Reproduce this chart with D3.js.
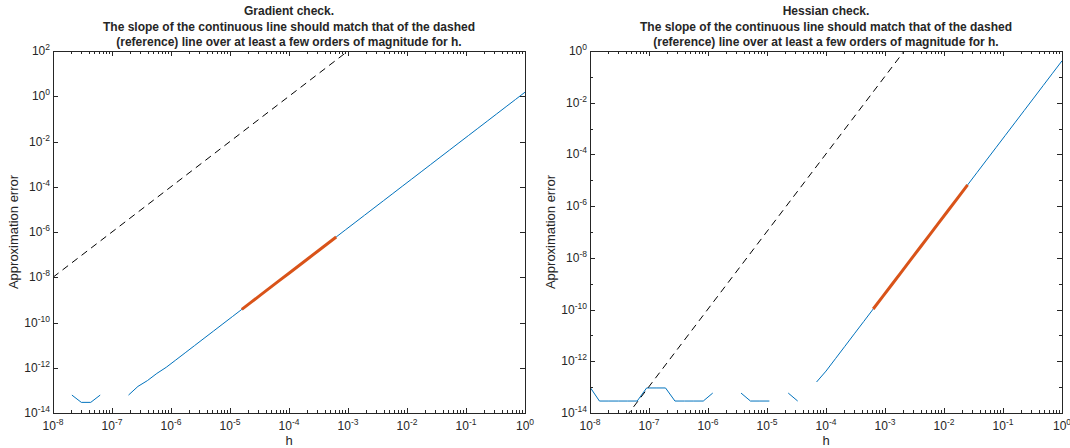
<!DOCTYPE html>
<html>
<head>
<meta charset="utf-8">
<script src="https://cdn.jsdelivr.net/npm/d3@7/dist/d3.min.js"></script>
<style>
body{margin:0;background:#fff}
text{font-family:"Liberation Sans",Arial,Helvetica,sans-serif;fill:#262626}
</style>
</head>
<body>
<svg id="chart" width="1070" height="448"></svg>
<script>
// step sizes h (log10), 51 points from 1e-8 to 1
var hExp = [-8,-7.84,-7.68,-7.52,-7.36,-7.2,-7.04,-6.88,-6.72,-6.56,-6.4,-6.24,-6.08,-5.92,-5.76,-5.6,-5.44,-5.28,-5.12,-4.96,
  -4.8,-4.64,-4.48,-4.32,-4.16,-4,-3.84,-3.68,-3.52,-3.36,-3.2,-3.04,-2.88,-2.72,-2.56,-2.4,-2.24,-2.08,-1.92,-1.76,
  -1.6,-1.44,-1.28,-1.12,-0.96,-0.8,-0.64,-0.48,-0.32,-0.16,0];

// gradient check error (null = exact zero, not drawn on log axes)
var gradErr = [null,null,6.2e-14,2.95e-14,2.95e-14,6.2e-14,null,null,6.2e-14,1.5e-13,
  2.7e-13,5.6e-13,1.05e-12,2.19e-12,4.57e-12,9.55e-12,2.0e-11,4.17e-11,8.71e-11,1.82e-10,
  3.8e-10,7.94e-10,1.66e-9,3.47e-9,7.24e-9,1.51e-8,3.16e-8,6.61e-8,1.38e-7,2.88e-7,
  6.03e-7,1.26e-6,2.63e-6,5.5e-6,1.15e-5,2.4e-5,5.01e-5,1.05e-4,2.19e-4,4.57e-4,
  9.55e-4,2.0e-3,4.17e-3,8.71e-3,1.82e-2,3.8e-2,7.94e-2,0.166,0.347,0.724,1.51];

// hessian check error
var hessErr = [1.0e-13,2.9e-14,2.9e-14,2.9e-14,2.9e-14,2.9e-14,9.3e-14,9.3e-14,9.3e-14,2.9e-14,
  2.9e-14,2.9e-14,2.9e-14,5.9e-14,null,null,5.9e-14,2.9e-14,2.9e-14,2.9e-14,
  null,5.9e-14,2.9e-14,null,1.58e-13,4.17e-13,1.26e-12,3.8e-12,1.15e-11,3.47e-11,
  1.05e-10,3.16e-10,9.55e-10,2.88e-9,8.71e-9,2.63e-8,7.94e-8,2.4e-7,7.24e-7,2.19e-6,
  6.61e-6,2.0e-5,6.03e-5,1.82e-4,5.5e-4,1.66e-3,5.01e-3,1.51e-2,4.57e-2,0.138,0.417];

// index range of the fitted (red) segment
var gradFit = [20, 30];
var hessFit = [30, 40];

// dashed reference lines (slope 2 and slope 3)
var gradRefH = [1e-8, 1], gradRefErr = [1e-8, 1e8];
var hessRefH = [1e-8, 1], hessRefErr = [1.05e-16, 1.05e8];

var gradYTicks = [-14,-12,-10,-8,-6,-4,-2,0,2];
var hessYTicks = [-14,-12,-10,-8,-6,-4,-2,0];
var xTicks = [-8,-7,-6,-5,-4,-3,-2,-1,0];

var titles = [
  ["Gradient check.",
   "The slope of the continuous line should match that of the dashed",
   "(reference) line over at least a few orders of magnitude for h."],
  ["Hessian check.",
   "The slope of the continuous line should match that of the dashed",
   "(reference) line over at least a few orders of magnitude for h."]
];

var svg = d3.select("#chart");
var top_ = 51, bottom = 413;

function panel(idx, left, right, yMin, yMax, yTicks, err, fit, refH, refErr) {
  var g = svg.append("g");
  var x = d3.scaleLog().domain([1e-8, 1]).range([left, right]);
  var y = d3.scaleLog().domain([Math.pow(10, yMin), Math.pow(10, yMax)]).range([bottom, top_]);

  var pts = hExp.map(function(e, i){ return {h: Math.pow(10, e), err: err[i], i: i}; });

  var clipId = "clip" + idx;
  svg.append("clipPath").attr("id", clipId).append("rect")
    .attr("x", left).attr("y", top_).attr("width", right - left).attr("height", bottom - top_);

  var line = d3.line()
    .defined(function(d){ return d.err != null; })
    .x(function(d){ return x(d.h); })
    .y(function(d){ return y(d.err); });

  var plot = g.append("g").attr("clip-path", "url(#" + clipId + ")");

  plot.append("path").datum(pts)
    .attr("d", line).attr("fill", "none")
    .attr("stroke", "#0072BD").attr("stroke-width", 1);

  var ref = refH.map(function(h, i){ return {h: h, err: refErr[i]}; });
  plot.append("path").datum(ref)
    .attr("d", line).attr("fill", "none")
    .attr("stroke", "#000").attr("stroke-width", 1)
    .attr("stroke-dasharray", "7,5");

  plot.append("path").datum(pts.slice(fit[0], fit[1] + 1))
    .attr("d", line).attr("fill", "none")
    .attr("stroke", "#D95319").attr("stroke-width", 3);

  // ticks, inward on all four sides (box on)
  var ax = g.append("g").attr("stroke", "#262626").attr("stroke-width", 1);
  x.ticks().forEach(function(v){
    var major = Math.abs(Math.log10(v) - Math.round(Math.log10(v))) < 1e-9;
    var len = major ? 5 : 3;
    var px = Math.round(x(v)) + 0.5;
    ax.append("line").attr("x1", px).attr("x2", px).attr("y1", bottom).attr("y2", bottom - len);
    ax.append("line").attr("x1", px).attr("x2", px).attr("y1", top_).attr("y2", top_ + len);
  });
  y.ticks().forEach(function(v){
    var le = Math.log10(v);
    var major = Math.abs(le - Math.round(le)) < 1e-9 && yTicks.indexOf(Math.round(le)) >= 0;
    var len = major ? 5 : 3;
    var py = Math.round(y(v)) + 0.5;
    ax.append("line").attr("x1", left).attr("x2", left + len).attr("y1", py).attr("y2", py);
    ax.append("line").attr("x1", right).attr("x2", right - len).attr("y1", py).attr("y2", py);
  });

  g.append("rect").attr("x", left + 0.5).attr("y", top_ + 0.5)
    .attr("width", right - left).attr("height", bottom - top_)
    .attr("fill", "none").attr("stroke", "#262626").attr("stroke-width", 1);

  // tick labels 10^k
  xTicks.forEach(function(k){
    var t = g.append("text").attr("x", x(Math.pow(10, k))).attr("y", bottom + 17)
      .attr("text-anchor", "middle").attr("font-size", 12);
    t.append("tspan").text("10");
    t.append("tspan").attr("dy", -5).attr("font-size", 8.5).text(k);
  });
  yTicks.forEach(function(k){
    var t = g.append("text").attr("x", left - 3).attr("y", y(Math.pow(10, k)) + 4)
      .attr("text-anchor", "end").attr("font-size", 12);
    t.append("tspan").text("10");
    t.append("tspan").attr("dy", -5).attr("font-size", 8.5).text(k);
  });

  var cx = (left + right) / 2;
  g.append("text").attr("x", cx).attr("y", 445).attr("text-anchor", "middle")
    .attr("font-size", 13).text("h");
  g.append("text")
    .attr("transform", "translate(" + (left - 35) + "," + ((top_ + bottom) / 2) + ") rotate(-90)")
    .attr("text-anchor", "middle").attr("font-size", 13).text("Approximation error");

  titles[idx].forEach(function(s, j){
    g.append("text").attr("x", cx).attr("y", 15 + j * 15.5)
      .attr("text-anchor", "middle").attr("font-size", 12).attr("font-weight", "bold")
      .text(s);
  });
}

panel(0, 53, 525, -14, 2, gradYTicks, gradErr, gradFit, gradRefH, gradRefErr);
panel(1, 590, 1062, -14, 0, hessYTicks, hessErr, hessFit, hessRefH, hessRefErr);
</script>
</body>
</html>
